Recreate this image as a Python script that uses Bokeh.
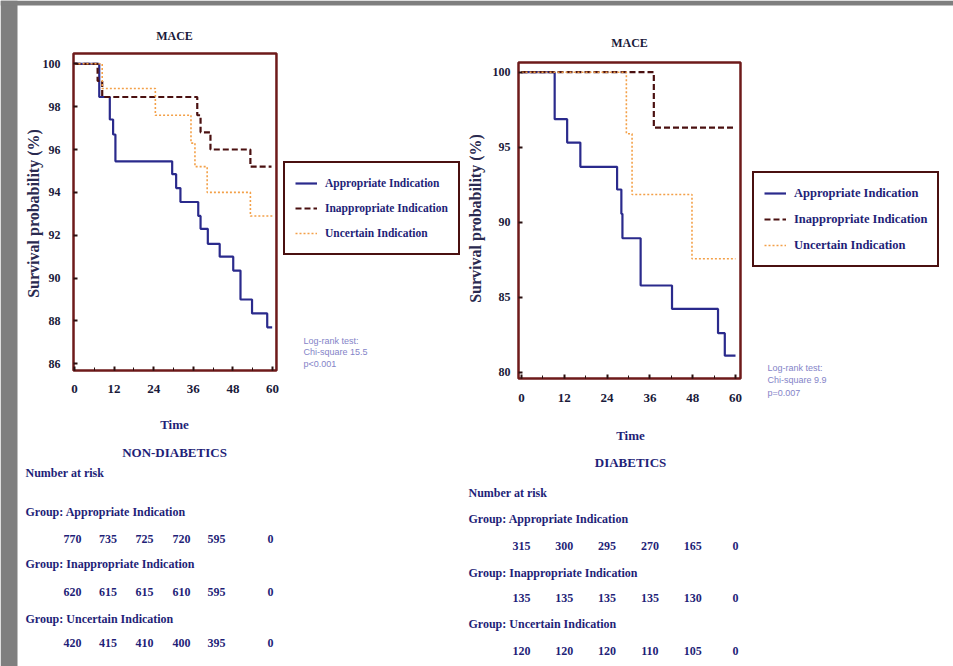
from math import pi
from bokeh.plotting import figure
from bokeh.models import (Label, ColumnDataSource, Legend, LegendItem, LinearAxis,
                          FixedTicker, Range1d)
from bokeh.core.properties import value
from bokeh.embed import file_html
from bokeh.resources import INLINE

# ---------------- data ----------------
groups = ["Appropriate Indication", "Inappropriate Indication", "Uncertain Indication"]
risk_times = [0, 12, 24, 36, 48, 60]
x_ticks = [0, 12, 24, 36, 48, 60]
x_minor = [0, 6, 12, 18, 24, 30, 36, 42, 48, 54, 60]

# Non-diabetics (left) Kaplan-Meier steps: time (months), survival (%)
nd_app_t = [0, 7.5, 10.7, 11.7, 12.4, 29.6, 30.8, 32.1, 37.5, 38.2, 40.4, 44.0, 48.1, 50.3, 53.8, 58.4, 59.9]
nd_app_s = [100, 98.45, 97.4, 96.7, 95.45, 94.85, 94.2, 93.55, 92.9, 92.3, 91.6, 91.0, 90.35, 89.0, 88.35, 87.7, 87.7]
nd_ina_t = [0, 7.0, 8.4, 37.2, 38.2, 41.2, 53.3, 59.7]
nd_ina_s = [100, 99.2, 98.45, 97.6, 96.8, 96.0, 95.2, 95.2]
nd_unc_t = [0, 8.4, 24.5, 35.3, 36.5, 40.2, 53.3, 60.0]
nd_unc_s = [100, 98.85, 97.6, 96.3, 95.2, 94.0, 92.9, 92.9]
nd_ticks_y = [86, 88, 90, 92, 94, 96, 98, 100]
nd_xlim = (-0.3, 61.2)
nd_ylim = (85.69, 100.48)

# Diabetics (right)
d_app_t = [0, 9.3, 12.8, 16.5, 26.8, 28.0, 28.3, 33.4, 42.2, 55.1, 57.0, 60.0]
d_app_s = [100, 96.87, 95.31, 93.69, 92.18, 90.56, 88.93, 85.78, 84.22, 82.6, 81.1, 81.1]
d_ina_t = [0, 37.1, 60.0]
d_ina_s = [100, 96.3, 96.3]
d_unc_t = [0, 29.4, 31.0, 47.8, 60.0]
d_unc_s = [100, 95.9, 91.85, 87.56, 87.56]
d_ticks_y = [80, 85, 90, 95, 100]
d_xlim = (-0.84, 61.4)
d_ylim = (79.58, 100.65)

# Number at risk
nd_risk_app = [770, 735, 725, 720, 595, 0]
nd_risk_ina = [620, 615, 615, 610, 595, 0]
nd_risk_unc = [420, 415, 410, 400, 395, 0]
d_risk_app = [315, 300, 295, 270, 165, 0]
d_risk_ina = [135, 135, 135, 135, 130, 0]
d_risk_unc = [120, 120, 120, 110, 105, 0]

nd_logrank = ["Log-rank test:", "Chi-square 15.5", "p<0.001"]
d_logrank = ["Log-rank test:", "Chi-square 9.9", "p=0.007"]

# ---------------- style ----------------
FONT = "Liberation Serif"
NAVY = "#1f1f78"
DARK = "#1a1a3a"
FRAME = "#6e1a1a"
BLUE = "#2a2a8c"
MAROON = "#4a1010"
ORANGE = "#f3a048"
GRAY = "#7f7f7f"
LOGRANK = "#8484c8"
W, H = 953, 666

# One canvas for the whole slide; page coordinates in pixels (y downwards)
p = figure(width=W, height=H, x_range=Range1d(0, W), y_range=Range1d(H, 0),
           x_axis_type=None, y_axis_type=None, output_backend="svg",
           toolbar_location=None, title=None, min_border=0)
p.outline_line_color = None
p.background_fill_color = "white"
p.border_fill_color = "white"


def page_range(px_a, val_a, px_b, val_b, px_lo, px_hi):
    k = (val_b - val_a) / (px_b - px_a)
    return Range1d(val_a + (px_lo - px_a) * k, val_a + (px_hi - px_a) * k)


# calibration of each survival panel on the page (tick positions in pixels)
p.extra_x_ranges = {"lx": page_range(74, 0, 272, 60, 0, W),
                    "rx": page_range(521, 0, 735, 60, 0, W)}
p.extra_y_ranges = {"ly": page_range(63.3, 100, 363.3, 86, H, 0),
                    "ry": page_range(71.7, 100, 371.7, 80, H, 0)}

# gray slide edge
p.quad(left=[0, 0], right=[17, W], top=[0, 0], bottom=[H, 5], fill_color=GRAY,
       line_color=None)


def style_axis(ax, size):
    ax.axis_line_color = None
    ax.major_tick_in = 4
    ax.major_tick_out = 0
    ax.minor_tick_in = 3
    ax.minor_tick_out = 0
    ax.major_tick_line_color = "#2a1010"
    ax.major_tick_line_width = 2
    ax.minor_tick_line_color = "#2a1010"
    ax.major_label_text_font = FONT
    ax.major_label_text_font_style = "bold"
    ax.major_label_text_color = DARK
    ax.major_label_text_font_size = size


def km_panel(xr, yr, xlim, ylim, yticks, curves, ystandoff, leg_loc, leg_w, leg_size, leg_pad, leg_sp):
    # frame box
    p.quad(left=[xlim[0]], right=[xlim[1]], bottom=[ylim[0]], top=[ylim[1]],
           fill_color=None, line_color=FRAME, line_width=2.5,
           x_range_name=xr, y_range_name=yr)
    xa = LinearAxis(x_range_name=xr, y_range_name=yr, fixed_location=ylim[0],
                    ticker=FixedTicker(ticks=x_ticks, minor_ticks=x_minor))
    style_axis(xa, "13px")
    xa.major_label_standoff = 15
    p.add_layout(xa, "below")
    ya = LinearAxis(x_range_name=xr, y_range_name=yr, fixed_location=xlim[0],
                    ticker=FixedTicker(ticks=yticks))
    style_axis(ya, "12px")
    ya.minor_tick_line_color = None
    ya.major_label_standoff = ystandoff
    p.add_layout(ya, "left")

    styles = [dict(line_color=BLUE, line_width=2.2),
              dict(line_color=MAROON, line_width=2.2, line_dash="6 3"),
              dict(line_color=ORANGE, line_width=1.6, line_dash="2 2")]
    rends = []
    for (t, s), st in zip(curves, styles):
        src = ColumnDataSource(dict(t=t, s=s))
        rends.append(p.step(x="t", y="s", source=src, mode="after",
                            x_range_name=xr, y_range_name=yr, **st))
    leg = Legend(items=[LegendItem(label=g, renderers=[r]) for g, r in zip(groups, rends)],
                 location=leg_loc, margin=0, padding=leg_pad, spacing=leg_sp,
                 label_text_font=FONT, label_text_font_style="bold",
                 label_text_font_size=leg_size, label_text_color=NAVY,
                 label_height=20, glyph_height=20, glyph_width=22, label_standoff=8,
                 label_width=leg_w,
                 border_line_color=MAROON, border_line_width=2, border_line_alpha=1.0,
                 background_fill_color="white", background_fill_alpha=1.0)
    p.add_layout(leg)


def text(X, Y, s, size="12px", align="left", color=NAVY, style="bold", font=FONT, angle=0):
    p.add_layout(Label(x=X, y=Y, text=s, text_align=align, text_baseline="middle",
                       text_font=font, text_font_style=style, text_font_size=size,
                       text_color=color, angle=angle))


def risk_row(xs, Y, vals, xr="default"):
    src = ColumnDataSource(dict(x=xs, y=[Y] * len(vals), text=[str(v) for v in vals]))
    p.text(x="x", y="y", text="text", source=src, x_range_name=xr,
           text_align="center", text_baseline="middle", text_font=value(FONT),
           text_font_style="bold", text_font_size="12px", text_color=NAVY)


# ---------------- left: non-diabetics ----------------
km_panel("lx", "ly", nd_xlim, nd_ylim, nd_ticks_y,
         [(nd_app_t, nd_app_s), (nd_ina_t, nd_ina_s), (nd_unc_t, nd_unc_s)],
         13, (283, H - 255), 120, "11.5px", 10, 5)
text(174, 35, "MACE", align="center", color=DARK)
text(33, 213, "Survival probability (%)", size="16px", align="center", color="#2a2a50", angle=pi / 2)
text(174, 424, "Time", size="13px", align="center")
for i, line in enumerate(nd_logrank):
    text(303, 340 + 11.5 * i, line, size="9px", color=LOGRANK, style="normal", font="Liberation Sans")
text(174, 452, "NON-DIABETICS", size="13px", align="center")
text(25, 472, "Number at risk")
text(25, 511, "Group: " + groups[0])
text(25, 563, "Group: " + groups[1])
text(25, 618, "Group: " + groups[2])
nd_cols = [72, 107.5, 144, 181, 216, 270]
risk_row(nd_cols, 538, nd_risk_app)
risk_row(nd_cols, 591, nd_risk_ina)
risk_row(nd_cols, 642, nd_risk_unc)

# ---------------- right: diabetics ----------------
km_panel("rx", "ry", d_xlim, d_ylim, d_ticks_y,
         [(d_app_t, d_app_s), (d_ina_t, d_ina_s), (d_unc_t, d_unc_s)],
         8, (752, H - 267), 132, "12.5px", 10, 6)
text(629, 42, "MACE", align="center", color=DARK)
text(475, 218, "Survival probability (%)", size="16px", align="center", color="#2a2a50", angle=pi / 2)
text(630, 435, "Time", size="13px", align="center")
for i, line in enumerate(d_logrank):
    text(767, 367 + 12.5 * i, line, size="9px", color=LOGRANK, style="normal", font="Liberation Sans")
text(630, 462, "DIABETICS", size="13px", align="center")
text(468, 492, "Number at risk")
text(468, 518, "Group: " + groups[0])
text(468, 572, "Group: " + groups[1])
text(468, 623, "Group: " + groups[2])
risk_row(risk_times, 545, d_risk_app, "rx")
risk_row(risk_times, 597, d_risk_ina, "rx")
risk_row(risk_times, 650, d_risk_unc, "rx")

open("out.html", "w").write(file_html(p, INLINE))
